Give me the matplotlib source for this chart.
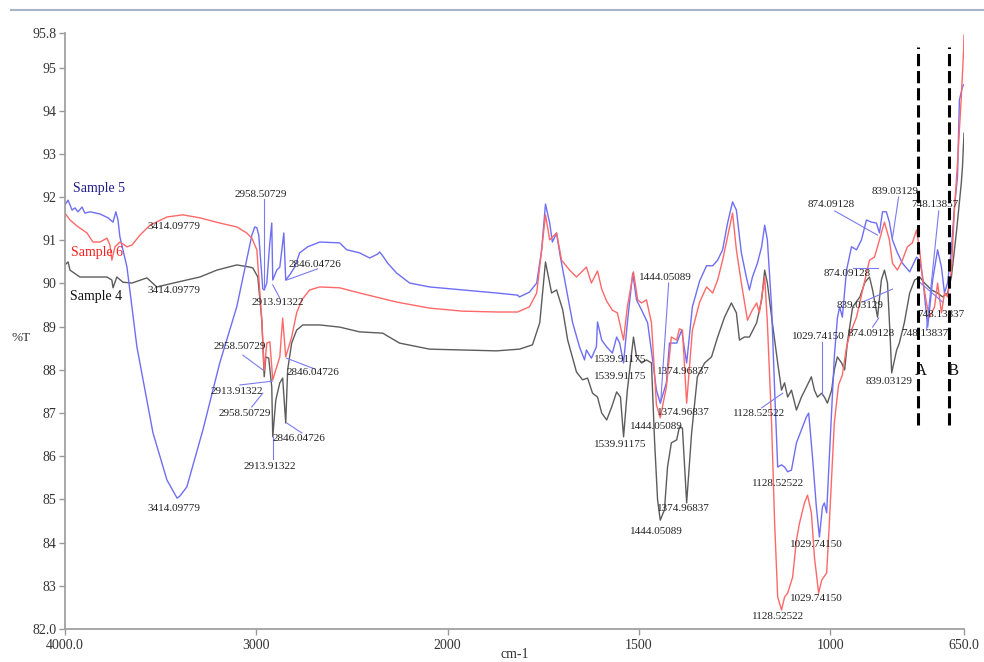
import numpy as np
import matplotlib
matplotlib.use('Agg')
import matplotlib.pyplot as plt

plt.rcParams['font.family'] = ['Liberation Serif', 'DejaVu Serif']

# ---- spectra (wavenumber cm-1, %T) ----
wn5 = [4000, 3984, 3963, 3948, 3932, 3911, 3896, 3869, 3817, 3775, 3749, 3734, 3723, 3713,
       3676, 3624, 3540, 3467, 3414, 3399, 3363, 3279, 3191, 3102, 3023, 3008, 2997, 2987,
       2966, 2958.5, 2945, 2930, 2919, 2913.9, 2893, 2877, 2856, 2846, 2825, 2799, 2773,
       2731, 2668, 2564, 2527, 2460, 2407, 2366, 2355, 2339, 2313, 2266, 2198, 2094, 1961,
       1872, 1817, 1812, 1786, 1767, 1754, 1744, 1733, 1726, 1715, 1707, 1689, 1673, 1655,
       1642, 1637, 1624, 1611, 1608, 1597, 1584, 1569, 1558, 1550, 1540, 1530, 1516, 1506,
       1493, 1477, 1464, 1454, 1444, 1428, 1420, 1401, 1388, 1375, 1360, 1341, 1323, 1307,
       1294, 1281, 1268, 1255, 1245, 1232, 1219, 1211, 1203, 1190, 1179, 1171, 1164, 1153,
       1145, 1137, 1127, 1119, 1111, 1101, 1088, 1075, 1062, 1056, 1046, 1036, 1028, 1020,
       1015, 1009, 1002, 989, 981, 975, 968, 957, 944, 931, 918, 905, 892, 879, 871, 863,
       853, 845, 837, 824, 811, 792, 774, 766, 758, 745, 732, 719, 709, 701, 693, 683, 675,
       667, 662, 654, 651]
t5 = [91.82, 91.93, 91.70, 91.75, 91.66, 91.77, 91.63, 91.66, 91.61, 91.52, 91.42, 91.66, 91.47, 91.08,
      90.38, 88.53, 86.54, 85.45, 85.03, 85.08, 85.29, 86.61, 88.16, 89.46, 91.12, 91.31, 91.29, 91.12,
      89.88, 89.85, 90.01, 90.90, 91.40, 90.08, 90.31, 90.38, 91.17, 90.08, 90.20, 90.38, 90.71,
      90.85, 90.96, 90.94, 90.78, 90.71, 90.59, 90.68, 90.73, 90.64, 90.47, 90.24, 90.01, 89.92, 89.85,
      89.78, 89.73, 89.69, 89.80, 90.01, 90.78, 91.84, 91.40, 90.96, 91.17, 90.71, 89.85, 89.09, 88.53,
      88.23, 88.46, 88.27, 88.53, 89.11, 88.69, 88.53, 88.39, 88.76, 88.62, 88.16, 89.09, 90.24, 89.62,
      89.39, 89.09, 88.23, 87.53, 87.23, 87.70, 88.62, 88.62, 88.92, 88.16, 89.46, 90.06, 90.41, 90.41,
      90.54, 90.78, 91.40, 91.89, 91.70, 90.71, 90.15, 89.85, 90.15, 90.47, 90.85, 91.35, 91.01, 89.46,
      87.53, 85.75, 85.80, 85.75, 85.64, 85.68, 86.31, 86.61, 86.91, 87.00, 85.98, 84.83, 84.13, 84.83,
      84.92, 84.69, 85.98, 88.30, 89.20, 89.46, 89.22, 90.31, 90.85, 90.78, 91.01, 91.47, 91.42, 91.40, 91.17, 91.66,
      91.66, 91.42, 91.01, 90.71, 90.47, 90.27, 90.61, 90.54, 90.15, 88.99, 90.08, 90.78, 90.38, 89.78, 90.01, 90.78, 91.77,
      92.47, 94.25, 94.55, 94.60]

wn6 = [4000, 3974, 3937, 3885, 3854, 3817, 3781, 3765, 3755, 3739, 3713, 3676, 3650, 3608,
       3556, 3467, 3384, 3295, 3191, 3102, 3050, 3023, 2997, 2982, 2971, 2958.5, 2945, 2929,
       2913.9, 2893, 2877, 2862, 2846, 2815, 2789, 2762, 2721, 2668, 2564, 2460, 2266, 2094,
       1961, 1872, 1817, 1786, 1767, 1754, 1744, 1733, 1715, 1702, 1681, 1663, 1637, 1624,
       1608, 1597, 1584, 1569, 1556, 1540, 1530, 1514, 1503, 1493, 1480, 1467, 1454, 1444,
       1428, 1415, 1401, 1394, 1386, 1375, 1360, 1341, 1323, 1307, 1294, 1281, 1268, 1255,
       1245, 1232, 1216, 1203, 1192, 1185, 1171, 1164, 1153, 1145, 1137, 1127, 1119, 1111,
       1098, 1088, 1080, 1067, 1059, 1049, 1041, 1030, 1022, 1009, 1002, 989, 978, 968, 957,
       949, 931, 915, 897, 884, 871, 858, 845, 837, 824, 811, 798, 785, 774, 766, 758, 748,
       740, 727, 719, 709, 701, 693, 683, 675, 667, 657, 651, 650]
t6 = [91.63, 91.47, 91.33, 91.17, 90.96, 90.96, 91.05, 90.89, 90.54, 90.85, 90.96, 90.85, 90.89, 91.12,
      91.35, 91.54, 91.59, 91.52, 91.40, 91.31, 91.17, 91.05, 90.78, 89.85, 89.15, 87.99, 88.62, 88.65,
      87.77, 88.07, 88.30, 89.20, 88.30, 88.76, 89.32, 89.62, 89.85, 89.92, 89.90, 89.78, 89.57, 89.43,
      89.36, 89.34, 89.34, 89.46, 89.78, 90.78, 91.59, 91.01, 91.17, 90.54, 90.31, 90.15, 90.38, 90.01,
      90.29, 89.87, 89.59, 89.38, 89.32, 88.69, 89.46, 90.27, 89.62, 89.55, 89.62, 89.09, 87.19, 86.89,
      87.60, 88.76, 88.69, 88.95, 88.92, 87.23, 88.92, 89.57, 89.92, 89.78, 90.08, 90.54, 91.08, 91.63,
      90.78, 90.01, 89.15, 89.39, 89.55, 89.32, 90.15, 89.09, 86.77, 84.45, 82.74, 82.44, 82.74, 82.83,
      83.20, 84.06, 84.45, 84.92, 85.10, 84.69, 83.67, 82.83, 83.13, 83.30, 84.45, 86.77, 87.65, 87.88, 88.53,
      88.81, 89.22, 89.85, 90.54, 90.61, 91.01, 91.42, 91.01, 90.47, 90.31, 90.54, 90.85, 90.94, 91.24, 90.78, 90.08, 89.55,
      89.22, 89.46, 90.01, 89.32, 89.78, 89.69, 90.31, 91.70, 92.79, 94.32, 95.41, 95.75]

wn4 = [4000, 3984, 3974, 3922, 3854, 3781, 3755, 3749, 3729, 3697, 3650, 3572, 3520, 3414,
       3295, 3206, 3102, 3034, 3018, 2992, 2971, 2958.5, 2950, 2935, 2919, 2913.9, 2898, 2877,
       2862, 2846, 2836, 2815, 2789, 2757, 2668, 2564, 2460, 2339, 2251, 2094, 1961, 1872,
       1812, 1778, 1759, 1744, 1728, 1715, 1699, 1686, 1663, 1647, 1634, 1621, 1608, 1597,
       1584, 1571, 1558, 1548, 1539.9, 1530, 1514, 1506, 1493, 1480, 1467, 1459, 1451, 1444,
       1433, 1425, 1415, 1401, 1394, 1386, 1375, 1362, 1347, 1328, 1310, 1294, 1276, 1258,
       1245, 1237, 1224, 1211, 1192, 1179, 1171, 1164, 1151, 1137, 1127, 1119, 1111, 1101,
       1088, 1075, 1062, 1049, 1041, 1033, 1022, 1015, 1007, 996, 989, 981, 970, 962, 955,
       941, 922, 909, 897, 889, 876, 866, 858, 850, 843, 839.03, 826, 819, 806, 792, 779,
       766, 753, 735, 719, 706, 693, 683, 670, 657, 654, 650]
t4 = [90.43, 90.50, 90.31, 90.15, 90.15, 90.15, 90.08, 89.90, 90.15, 90.03, 90.01, 90.13, 89.92, 90.03,
      90.15, 90.31, 90.43, 90.38, 90.36, 90.15, 89.15, 87.84, 88.30, 88.27, 87.60, 86.45, 87.30, 87.70,
      87.81, 86.77, 88.00, 88.62, 88.92, 89.04, 89.04, 88.99, 88.88, 88.85, 88.62, 88.48, 88.46, 88.44,
      88.48, 88.58, 89.09, 90.50, 89.78, 89.85, 89.39, 88.69, 87.95, 87.77, 87.81, 87.46, 87.37, 87.00,
      86.84, 87.14, 87.49, 87.37, 86.45, 87.53, 88.76, 88.30, 88.16, 88.23, 88.16, 86.38, 84.99, 84.52,
      84.76, 85.75, 86.31, 86.38, 86.68, 86.65, 84.92, 86.54, 87.84, 88.16, 88.30, 88.76, 89.22, 89.55,
      89.32, 88.69, 88.76, 88.76, 89.09, 89.62, 90.31, 90.01, 89.09, 88.16, 87.53, 87.70, 87.37, 87.53,
      87.07, 87.37, 87.60, 87.84, 87.53, 87.37, 87.46, 87.37, 87.23, 87.53, 88.00, 88.30, 88.16, 88.00, 88.62,
      89.46, 89.69, 90.03, 90.15, 89.85, 89.22, 90.08, 90.31, 90.01, 88.76, 87.93, 88.46, 88.62, 89.09, 89.78, 90.08,
      90.15, 90.01, 89.85, 89.78, 89.69, 89.78, 90.15, 91.17, 92.33, 92.70, 93.48]

x_ticks = [4000, 3000, 2000, 1500, 1000, 650]
x_tick_labels = ['4000.0', '3000', '2000', '1500', '1000', '650.0']
y_ticks = [95.8, 95, 94, 93, 92, 91, 90, 89, 88, 87, 86, 85, 84, 83, 82.0]
y_tick_labels = ['95.8', '95', '94', '93', '92', '91', '90', '89', '88', '87', '86', '85', '84', '83', '82.0']

# peak labels: text, x, y
peak_labels = [
    ('3414.09779', 3433, 91.31), ('3414.09779', 3433, 89.83), ('3414.09779', 3428, 84.78),
    ('2958.50729', 2976, 92.07), ('2913.91322', 2888, 89.55), ('2846.04726', 2694, 90.45),
    ('2958.50729', 3086, 88.53), ('2913.91322', 3102, 87.49), ('2846.04726', 2705, 87.93),
    ('2958.50729', 3060, 86.98), ('2846.04726', 2778, 86.42), ('2913.91322', 2930, 85.77),
    ('1539.91175', 1548, 88.25), ('1539.91175', 1548, 87.84), ('1539.91175', 1548, 86.28),
    ('1444.05089', 1430, 90.15), ('1444.05089', 1454, 86.70), ('1444.05089', 1454, 84.25),
    ('1374.96837', 1383, 87.97), ('1374.96837', 1383, 87.02), ('1374.96837', 1383, 84.78),
    ('1128.52522', 1185, 86.98), ('1128.52522', 1135, 85.38), ('1128.52522', 1135, 82.28),
    ('1029.74150', 1030, 88.78), ('1029.74150', 1036, 83.95), ('1029.74150', 1036, 82.70),
    ('874.09128', 996, 91.84), ('874.09128', 955, 90.22), ('874.09128', 892, 88.85),
    ('839.03129', 829, 92.12), ('839.03129', 921, 89.48), ('839.03129', 845, 87.74),
    ('748.13857', 725, 91.84), ('748.13837', 711, 89.29), ('748.13837', 753, 88.85),
]
# leader lines: (x1, y1, x2, y2)
leaders = [
    (2958.5, 89.92, 2958.5, 91.96), (2914, 89.97, 2877, 89.66), (2841, 90.08, 2679, 90.34),
    (3070, 88.34, 2966, 88.00), (3086, 87.65, 2914, 87.74), (2841, 88.27, 2694, 88.02),
    (3024, 87.14, 2966, 87.46), (2841, 86.77, 2762, 86.54), (2914, 86.45, 2914, 85.94),
    (1443, 87.23, 1422, 90.01), (1179, 87.12, 1124, 87.46), (1022, 88.65, 1022, 87.42),
    (988, 91.68, 876, 91.12), (941, 90.36, 876, 90.36), (889, 88.99, 873, 89.20),
    (821, 92.00, 837, 91.05), (915, 89.57, 837, 89.87), (716, 91.68, 748, 88.92),
    (706, 89.57, 766, 90.03),
]


def fwd(x):
    x = np.asarray(x, dtype=float)
    return np.where(x > 2000, 2000 + (x - 2000) / 2.0, x)


def inv(y):
    y = np.asarray(y, dtype=float)
    return np.where(y > 2000, 2000 + 2.0 * (y - 2000), y)


fig = plt.figure(figsize=(9.84, 6.62), dpi=100)
ax = fig.add_axes([65 / 984, 1 - 629 / 662, (964 - 65) / 984, (629 - 33) / 662])
ax.set_xscale('function', functions=(fwd, inv))

ax.plot(wn4, t4, color='#5c5c5c', lw=1.0)
ax.plot(wn5, t5, color='#6e6ef4', lw=1.0)
ax.plot(wn6, t6, color='#ff6868', lw=1.0)

for x1, y1, x2, y2 in leaders:
    ax.plot([x1, x2], [y1, y2], color='#7b7bf0', lw=0.8)

for txt, x, y in peak_labels:
    ax.text(x, y, txt, fontsize=8, color='#222222', ha='center', va='center')

ax.text(3958, 92.21, 'Sample 5', color='#1c1c8a', fontsize=10, va='center')
ax.text(3969, 90.71, 'Sample 6', color='#ff2020', fontsize=10, va='center')
ax.text(3974, 89.69, 'Sample 4', color='#111111', fontsize=10, va='center')

# marked regions A and B
for xv, lab in [(771, 'A'), (688, 'B')]:
    ln, = ax.plot([xv, xv], [86.73, 95.48], color='black', lw=2.2)
    ln.set_dashes((4, 1.6))
    ax.text(xv - 8, 87.97, lab, fontsize=12, ha='center', va='center', color='#111111')

ax.set_xlim(4000, 650)
ax.set_ylim(82.0, 95.8)
ax.set_xticks(x_ticks)
ax.set_xticklabels(x_tick_labels)
ax.set_yticks(y_ticks)
ax.set_yticklabels(y_tick_labels)
ax.tick_params(direction='out', length=4, width=1, color='#999999',
               labelsize=10, labelcolor='#333333', pad=2)
ax.tick_params(axis='x', pad=3)
for s in ['top', 'right']:
    ax.spines[s].set_visible(False)
for s in ['left', 'bottom']:
    ax.spines[s].set_color('#a0a0a0')
    ax.spines[s].set_linewidth(1.3)

fig.text(21 / 984, 1 - 338 / 662, '%T', fontsize=9.5, ha='center', va='center', color='#333333')
fig.text(515 / 984, 1 - 661 / 662, 'cm-1', fontsize=10, ha='center', va='bottom', color='#333333')
fig.add_artist(plt.Line2D([11 / 984, 1.0], [1 - 10 / 662, 1 - 10 / 662],
                          transform=fig.transFigure, color='#a8b4c8', lw=1.5))

fig.savefig('out.png', dpi=100)
